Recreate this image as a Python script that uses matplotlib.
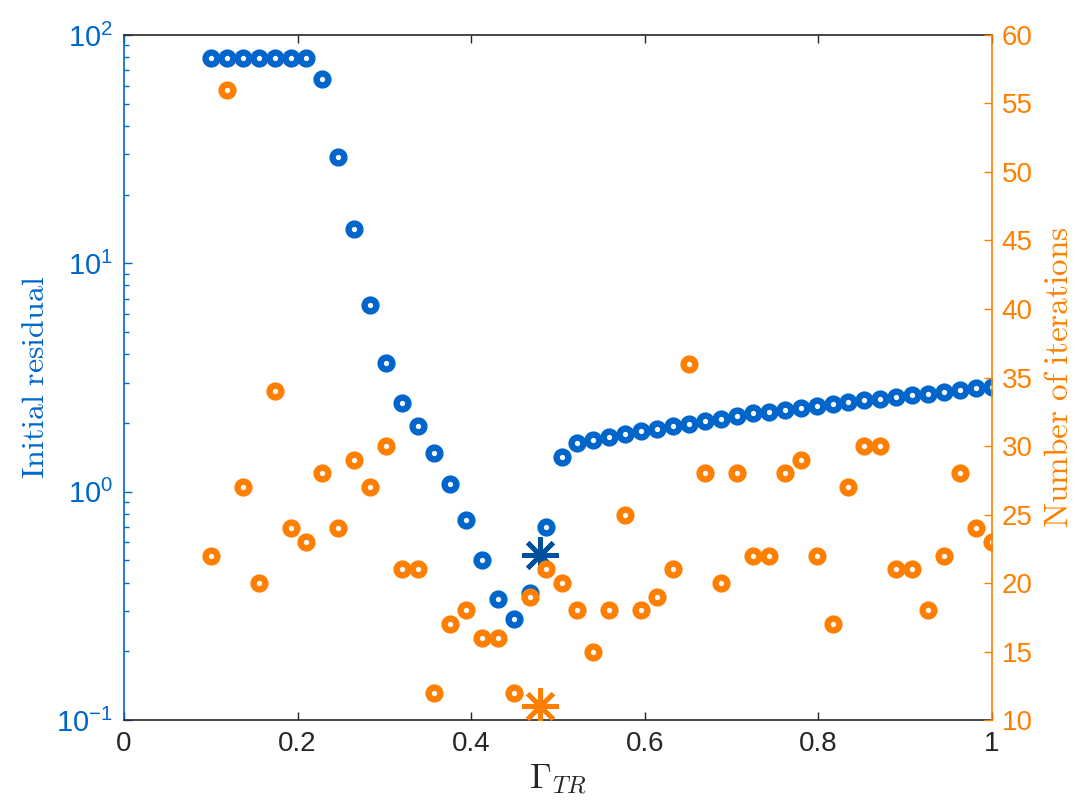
import numpy as np
import matplotlib
matplotlib.use('Agg')
import matplotlib.pyplot as plt
from matplotlib.ticker import FixedLocator, LogLocator, NullFormatter, FormatStrFormatter

plt.rcParams['font.family'] = ['Liberation Sans', 'DejaVu Sans']
plt.rcParams['mathtext.fontset'] = 'cm'

# Gamma_TR sweep
gamma = np.linspace(0.1, 1.0, 50)

# Initial residual (left axis, log)
residual = [79, 79, 79, 79, 79, 79, 79, 64, 29.3, 14.2,
            6.6, 3.67, 2.45, 1.93, 1.47, 1.08, 0.754, 0.504, 0.34, 0.278,
            0.361, 0.70, 1.42, 1.63, 1.69, 1.74, 1.79, 1.84, 1.89, 1.93,
            1.98, 2.04, 2.08, 2.14, 2.20, 2.23, 2.27, 2.33, 2.37, 2.41,
            2.46, 2.51, 2.55, 2.61, 2.65, 2.69, 2.74, 2.79, 2.84, 2.87]

# Number of iterations (right axis)
iterations = [22, 56, 27, 20, 34, 24, 23, 28, 24, 29,
              27, 30, 21, 21, 12, 17, 18, 16, 16, 12,
              19, 21, 20, 18, 15, 18, 25, 18, 19, 21,
              36, 28, 20, 28, 22, 22, 28, 29, 22, 17,
              27, 30, 30, 21, 21, 18, 22, 28, 24, 23]

# chosen optimum
best_gamma = 0.479
best_residual = 0.53
best_iterations = 11

blue = '#0066CC'
dark_blue = '#0050A0'
orange = '#FF8000'
black = '#262626'

fig = plt.figure(figsize=(10.84, 8.10), dpi=100)
ax = fig.add_axes([0.1144, 0.1111, 0.8007, 0.8457])
ax2 = ax.twinx()

ax.plot(gamma, residual, linestyle='none', marker='o', ms=8.5, mew=4.6,
        mfc='white', mec=blue)
ax.plot([best_gamma], [best_residual], linestyle='none', marker=(8, 2, 0),
        ms=26, mew=3.4, color=dark_blue)

ax2.plot(gamma, iterations, linestyle='none', marker='o', ms=8.5, mew=4.6,
         mfc='white', mec=orange)
ax2.plot([best_gamma], [best_iterations], linestyle='none', marker=(8, 2, 0),
         ms=26, mew=3.4, color=orange)

# left axis
ax.set_yscale('log')
ax.set_ylim(0.1, 100)
ax.set_xlim(0, 1)
ax.xaxis.set_major_locator(FixedLocator([0, 0.2, 0.4, 0.6, 0.8, 1.0]))
ax.xaxis.set_major_formatter(FormatStrFormatter('%g'))
ax.yaxis.set_major_locator(LogLocator(base=10, numticks=10))
ax.yaxis.set_minor_locator(LogLocator(base=10, subs=np.arange(2, 10), numticks=10))
ax.yaxis.set_minor_formatter(NullFormatter())

ax.tick_params(axis='x', which='both', direction='in', top=True, length=6,
               width=1, colors=black, labelsize=20, pad=8)
ax.tick_params(axis='y', which='major', direction='in', length=6, width=1,
               colors=blue, labelsize=21, pad=8, right=False)
ax.tick_params(axis='y', which='minor', direction='in', length=3.5, width=1,
               colors=blue, right=False)

# right axis
ax2.set_ylim(10, 60)
ax2.yaxis.set_major_locator(FixedLocator(np.arange(10, 61, 5)))
ax2.tick_params(axis='y', which='major', direction='in', length=6, width=1,
                colors=orange, labelsize=20, pad=7)

for side in ['top', 'bottom']:
    ax.spines[side].set_color(black)
    ax2.spines[side].set_visible(False)
ax.spines['left'].set_color(blue)
ax.spines['right'].set_visible(False)
ax2.spines['left'].set_visible(False)
ax2.spines['right'].set_color(orange)
for sp in list(ax.spines.values()) + list(ax2.spines.values()):
    sp.set_linewidth(1.2)

ax.set_xlabel(r'$\Gamma_{TR}$', fontsize=25, color=black, labelpad=4)
ax.set_ylabel(r'$\mathrm{Initial\ residual}$', fontsize=23, color=blue, labelpad=4)
ax2.set_ylabel(r'$\mathrm{Number\ of\ iterations}$', fontsize=24, color=orange, labelpad=8)

fig.savefig('out.png', dpi=100)
